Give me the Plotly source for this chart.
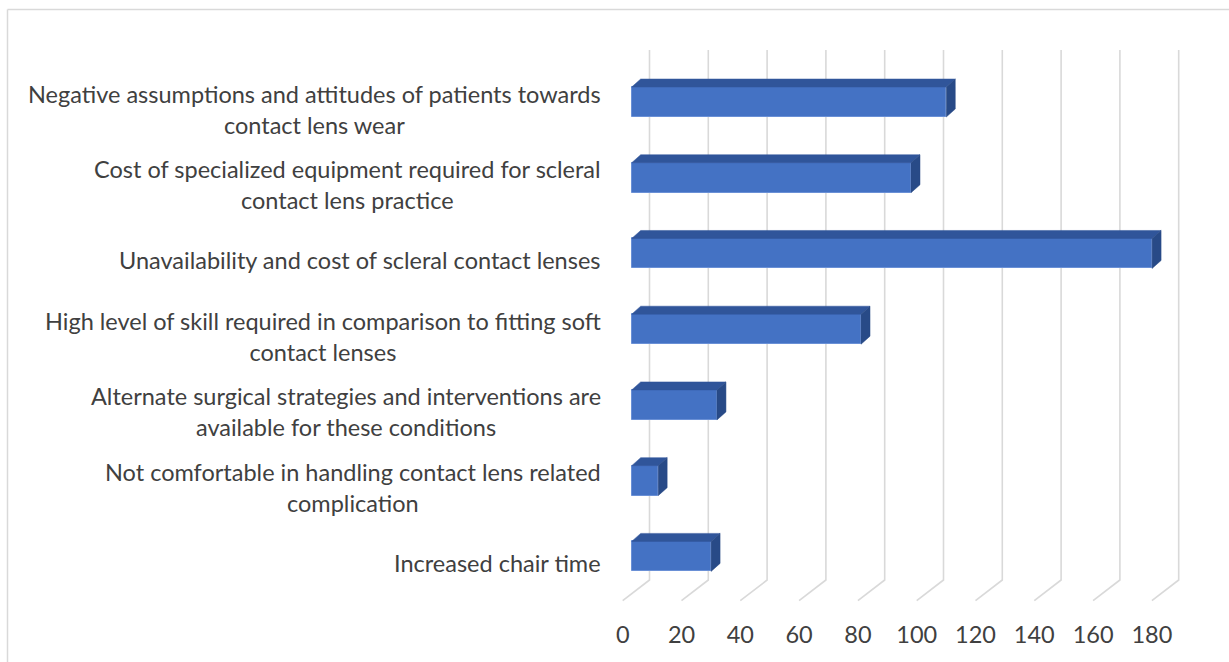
import plotly.graph_objects as go

# ---------------- data ----------------
categories = [
    "Negative assumptions and attitudes of patients towards<br>contact lens wear",
    "Cost of specialized equipment required for scleral<br>contact lens practice",
    "Unavailability and cost of scleral contact lenses",
    "High level of skill required in comparison to fitting soft<br>contact lenses",
    "Alternate surgical strategies and interventions are<br>available for these conditions",
    "Not comfortable in handling contact lens related<br>complication",
    "Increased chair time",
]
values = [107, 95, 177, 78, 29, 9, 27]
tick_values = [0, 20, 40, 60, 80, 100, 120, 140, 160, 180]

# ---------------- geometry (pixels) ----------------
W, H = 1229, 662
L, R, T, B = 590, 30, 30, 44
PW, PH = W - L - R, H - T - B
X0_PX = 631.7          # pixel of value 0 on the bar front plane
PX_PER_UNIT = 2.94
Y_TOP_CAT_PX = 102.0   # front-centre pixel of top category
CAT_SPACING = 75.73

n = len(categories)
def ypx_to_data(py):
    return ((Y_TOP_CAT_PX + (n - 1) * CAT_SPACING) - py) / CAT_SPACING

x_range = [(L - X0_PX) / PX_PER_UNIT, (L + PW - X0_PX) / PX_PER_UNIT]
y_range = [ypx_to_data(T + PH), ypx_to_data(T)]

bar_w = 30 / CAT_SPACING
ddx = 9.0 / PX_PER_UNIT
ddy = 8.0 / CAT_SPACING

back_dx = (649.5 - X0_PX) / PX_PER_UNIT
front_dx = (622.7 - X0_PX) / PX_PER_UNIT
grid_top = ypx_to_data(50)
grid_bot = ypx_to_data(580)
floor_front = ypx_to_data(600.7)

FRONT = "#4472C4"
TOP = "#30559A"
SIDE = "#284A87"
GRID = "#D9D9D9"
TEXT = "#404040"
FONT = "Lato"
FSIZE = 23.5

ypos = list(range(n - 1, -1, -1))  # top category gets highest index

fig = go.Figure()

# front faces
fig.add_trace(go.Bar(
    y=ypos, x=values, orientation="h", width=bar_w, base=0,
    marker=dict(color=FRONT, line=dict(color="#6A90D6", width=1)),
    hoverinfo="skip", showlegend=False,
))

# top and side faces
for yc, v in zip(ypos, values):
    yt = yc + bar_w / 2
    yb = yc - bar_w / 2
    fig.add_trace(go.Scatter(
        x=[0, v, v + ddx, ddx, 0], y=[yt, yt, yt + ddy, yt + ddy, yt],
        fill="toself", fillcolor=TOP, mode="lines",
        line=dict(color=TOP, width=0.5), hoverinfo="skip", showlegend=False,
    ))
    fig.add_trace(go.Scatter(
        x=[v, v + ddx, v + ddx, v, v], y=[yb, yb + ddy, yt + ddy, yt, yb],
        fill="toself", fillcolor=SIDE, mode="lines",
        line=dict(color=SIDE, width=0.5), hoverinfo="skip", showlegend=False,
    ))

shapes = []
# 3D gridlines: back wall vertical + floor diagonal
for v in tick_values:
    path = (f"M {v + back_dx},{grid_top} L {v + back_dx},{grid_bot} "
            f"L {v + front_dx},{floor_front}")
    shapes.append(dict(type="path", path=path, xref="x", yref="y",
                       line=dict(color=GRID, width=1.6), layer="below"))

# chart border (top + left)
def px_to_paper_x(px):
    return (px - L) / PW
def px_to_paper_y(py):
    return 1 - (py - T) / PH
bx, by = px_to_paper_x(7.5), px_to_paper_y(9.5)
shapes.append(dict(type="line", xref="paper", yref="paper",
                   x0=bx, y0=by, x1=px_to_paper_x(W + 5), y1=by,
                   line=dict(color=GRID, width=1.5)))
shapes.append(dict(type="line", xref="paper", yref="paper",
                   x0=bx, y0=by, x1=bx, y1=px_to_paper_y(H + 5),
                   line=dict(color=GRID, width=1.5)))

annotations = []
label_x = (603 - X0_PX) / PX_PER_UNIT
for yc, cat in zip(ypos, categories):
    annotations.append(dict(
        x=label_x, y=yc, xref="x", yref="y", text=cat, showarrow=False,
        xanchor="right", yanchor="middle", align="center", yshift=-7,
        font=dict(family=FONT, size=FSIZE, color=TEXT),
    ))

fig.update_layout(
    width=W, height=H,
    margin=dict(l=L, r=R, t=T, b=B, autoexpand=False),
    paper_bgcolor="white", plot_bgcolor="white",
    shapes=shapes, annotations=annotations,
    xaxis=dict(range=x_range, showgrid=False, zeroline=False, showline=False,
               automargin=False,
               tickmode="array", tickvals=[v + front_dx for v in tick_values],
               ticktext=[str(v) for v in tick_values], ticks="",
               tickfont=dict(family=FONT, size=FSIZE, color=TEXT)),
    yaxis=dict(range=y_range, showgrid=False, zeroline=False, showline=False,
               automargin=False, showticklabels=False, ticks=""),
    bargap=0,
)

fig.write_html("out.html")
